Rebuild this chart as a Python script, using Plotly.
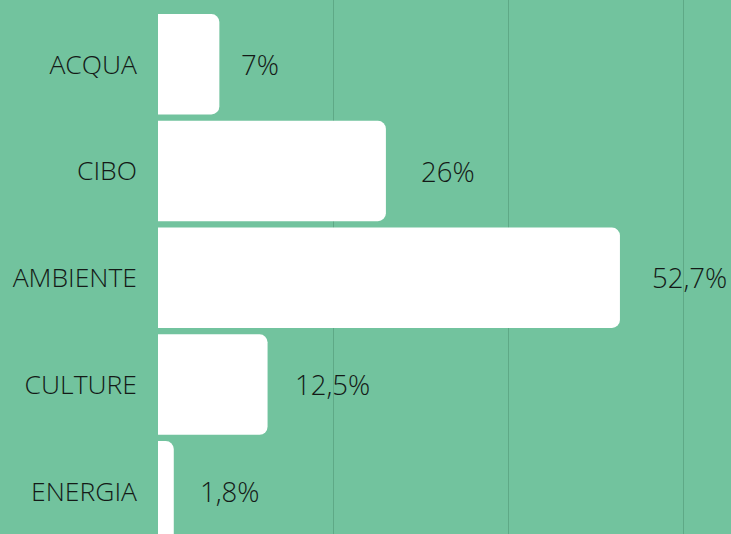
import plotly.graph_objects as go

# dati
categorie = ["ACQUA", "CIBO", "AMBIENTE", "CULTURE", "ENERGIA"]
valori = [7, 26, 52.7, 12.5, 1.8]
etichette = ["7%", "26%", "52,7%", "12,5%", "1,8%"]

# distanza (px) tra fine barra e etichetta
scarti = [20, 33, 30, 25, 24]

VERDE = "#72C39E"
GRIGLIA = "#5EA986"
TESTO = "#141A17"
FONT = "Open Sans"

pos = list(range(len(categorie)))

fig = go.Figure()
fig.add_trace(go.Bar(
    x=valori,
    y=pos,
    orientation="h",
    width=0.94,
    marker=dict(color="white", line=dict(width=0), cornerradius=8),
    hoverinfo="skip",
))

for v, p, t, s in zip(valori, pos, etichette, scarti):
    fig.add_annotation(
        x=v, y=p, text=t, showarrow=False,
        xanchor="left", yanchor="middle", xshift=s,
        font=dict(family=FONT, size=27.5, color=TESTO, weight=300),
    )

fig.update_layout(
    width=731, height=534,
    margin=dict(l=158, r=0, t=0, b=0),
    paper_bgcolor=VERDE,
    plot_bgcolor=VERDE,
    showlegend=False,
    xaxis=dict(
        range=[0, 65.37],
        tickvals=[0, 20, 40, 60],
        showticklabels=False,
        showgrid=True, gridcolor=GRIGLIA, gridwidth=1,
        zeroline=False, showline=False,
    ),
    yaxis=dict(
        range=[4.40, -0.602],
        tickvals=pos,
        ticktext=categorie,
        showgrid=False, zeroline=False, showline=False,
        ticks="", ticklabelstandoff=20,
        tickfont=dict(family=FONT, size=26.5, color=TESTO, weight=300),
    ),
)

fig.write_html(
    "out.html",
    config={"displayModeBar": False},
    post_script="document.body.style.margin='0';",
)
